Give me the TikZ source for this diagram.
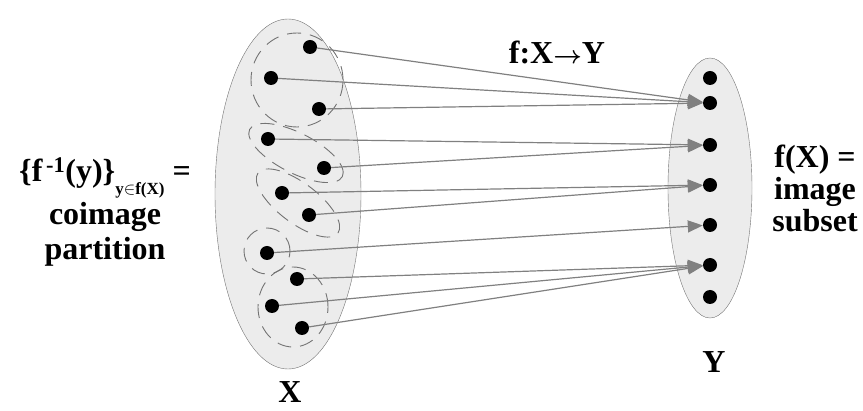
\documentclass[tikz,border=0pt]{standalone}
\usepackage{fontspec}
\setmainfont{Liberation Serif}
\usepackage{tikz}
\usetikzlibrary{shapes.geometric, arrows.meta, positioning}

\begin{document}
\begin{tikzpicture}[x=1pt, y=-1pt,
    setbox/.style={ellipse, draw=gray!90!black, fill=gray!15, inner sep=0pt},
    dot/.style={circle, fill=black, inner sep=0pt, minimum size=14pt},
    part/.style={draw=gray!90!black, line width=0.9pt, dash pattern=on 14pt off 9pt},
    line/.style={draw=gray, -{Triangle[length=15pt, width=12pt]}, line width=1.2pt},
    txt/.style={font=\bfseries\fontsize{32}{32}\selectfont, align=center, inner sep=1pt}]

    \useasboundingbox (0,0) rectangle (863,411);

    % the two sets
    \node [setbox, minimum width=146pt, minimum height=350pt] (Xset) at (288,194) {};
    \node [setbox, minimum width=84pt, minimum height=260pt] (Yset) at (710,188) {};

    % coimage partition
    \draw [part] (297,80) ellipse [x radius=46pt, y radius=47pt];
    \draw [part, rotate around={-27:(296,153)}] (296,153) ellipse [x radius=52pt, y radius=20pt];
    \draw [part, rotate around={-37:(298,203)}] (298,203) ellipse [x radius=50pt, y radius=20pt];
    \draw [part] (267,251) circle [radius=23pt];
    \draw [part] (293,307) ellipse [x radius=35pt, y radius=40pt];

    % points of X
    \node [dot] (x1) at (310,47) {};
    \node [dot] (x2) at (271,78) {};
    \node [dot] (x3) at (319,109) {};
    \node [dot] (x4) at (268,139) {};
    \node [dot] (x5) at (324,168) {};
    \node [dot] (x6) at (282,193) {};
    \node [dot] (x7) at (309,215) {};
    \node [dot] (x8) at (267,253) {};
    \node [dot] (x9) at (297,279) {};
    \node [dot] (x10) at (272,306) {};
    \node [dot] (x11) at (302,328) {};

    % points of Y
    \node [dot] (y1) at (710,78) {};
    \node [dot] (y2) at (710,103) {};
    \node [dot] (y3) at (710,145) {};
    \node [dot] (y4) at (710,185) {};
    \node [dot] (y5) at (710,225) {};
    \node [dot] (y6) at (710,265) {};
    \node [dot] (y7) at (710,297) {};

    % the map f
    \path [line] (x1) -- (y2);
    \path [line] (x2) -- (y2);
    \path [line] (x3) -- (y2);
    \path [line] (x4) -- (y3);
    \path [line] (x5) -- (y3);
    \path [line] (x6) -- (y4);
    \path [line] (x7) -- (y4);
    \path [line] (x8) -- (y5);
    \path [line] (x9) -- (y6);
    \path [line] (x10) -- (y6);
    \path [line] (x11) -- (y6);

    % labels
    \node [txt] (fmap) at (557,52) {f:X{\boldmath$\rightarrow$}Y};
    \node [txt] (Xname) at (290,392) {X};
    \node [txt] (Yname) at (714,362) {Y};
    \node [txt] (image) at (815,188) {f(X) =\\image\\subset};
    \node [txt, font=\bfseries\fontsize{32}{35}\selectfont] (coimage) at (105,212)
        {\{f\textsuperscript{\,-1}(y)\}\raisebox{-0.42em}{\fontsize{17}{17}\selectfont y$\in$f(X)} =\\[3pt]coimage\\partition};
\end{tikzpicture}
\end{document}
